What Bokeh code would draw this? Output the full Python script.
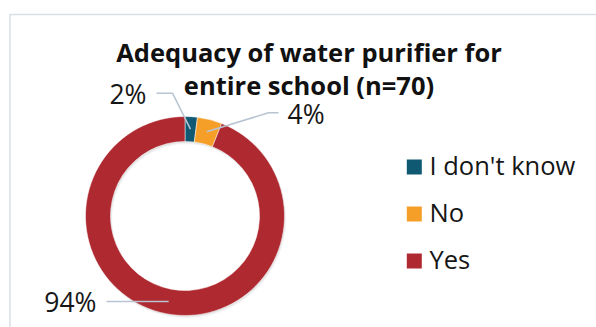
import math
from bokeh.plotting import figure
from bokeh.models import Range1d
from bokeh.core.properties import value
from bokeh.embed import file_html
from bokeh.resources import INLINE

# Data
categories = ["I don't know", "No", "Yes"]
shares = [2, 4, 94]
colors = ["#0f5a72", "#f59f29", "#af2930"]
title_lines = ["Adequacy of water purifier for", "entire school (n=70)"]

W, H = 596, 327
FONT = "Open Sans"
BASE_SHIFT = 10  # alphabetic baseline correction for the svg text renderer

p = figure(width=W, height=H, output_backend="svg", toolbar_location=None,
           x_range=Range1d(0, W), y_range=Range1d(0, H),
           min_border=0, outline_line_color=None, background_fill_color="white")
p.axis.visible = False
p.grid.visible = False


def Y(py):
    return H - py


def TY(py, shift=BASE_SHIFT):
    return H - (py - shift)


# chart-area border (left and top edges)
p.line([9.5, 9.5, W], [Y(H), Y(14), Y(14)], line_color="#dadee4", line_width=1.5)

# donut geometry
cx, cy = 184.5, Y(215.5)
r_in, r_out = 74.5, 99.5

# soft drop shadow
for off, a in [(1.0, 0.10), (2.0, 0.07), (3.0, 0.04)]:
    p.annular_wedge(x=cx + off * 0.6, y=cy - off, inner_radius=r_in, outer_radius=r_out,
                    start_angle=0, end_angle=2 * math.pi, fill_color="#606060",
                    fill_alpha=a, line_color=None)

total = float(sum(shares))
cum = 0.0
starts, ends, mids = [], [], []
for s in shares:
    a0 = math.pi / 2 - 2 * math.pi * cum / total
    a1 = math.pi / 2 - 2 * math.pi * (cum + s) / total
    starts.append(a0)
    ends.append(a1)
    mids.append((a0 + a1) / 2)
    cum += s

p.annular_wedge(x=cx, y=cy, inner_radius=r_in, outer_radius=r_out,
                start_angle=starts, end_angle=ends, direction="clock",
                fill_color=colors, line_color="white", line_width=0.5)

# leader lines from the middle of each ring segment
r_mid = (r_in + r_out) / 2
anchors = [(cx + r_mid * math.cos(m), cy + r_mid * math.sin(m)) for m in mids]
elbows = [[(172, Y(92.7)), (156, Y(92.7))],
          [(268, Y(112.3)), (278, Y(112.3))],
          [(106, Y(301))]]
for (ax, ay), pts in zip(anchors, elbows):
    xs = [ax] + [q[0] for q in pts]
    ys = [ay] + [q[1] for q in pts]
    p.line(xs, ys, line_color="#b8c4d1", line_width=1.5)

# percentage labels
lab_pos = [(146, 103.5, "right"), (287, 123.5, "left"), (96, 312, "right")]
for (lx, ly, al), s in zip(lab_pos, shares):
    p.text(x=[lx], y=[TY(ly, 10.5)], text=[f"{s}%"], text_font=value(FONT),
           text_font_size="26.5px", text_color="#161616", text_align=al,
           text_baseline="alphabetic")

# title
for i, t in enumerate(title_lines):
    p.text(x=[308.5], y=[TY(61 + 33 * i)], text=[t], text_font=value(FONT),
           text_font_style="bold", text_font_size="25.5px", text_color="#111111",
           text_align="center", text_baseline="alphabetic")

# legend
leg_base = [174, 221, 268]
for name, c, b in zip(categories, colors, leg_base):
    p.rect(x=[413.8], y=[Y(b - 7.5)], width=15, height=15, fill_color=c, line_color=None)
    p.text(x=[429], y=[TY(b)], text=[name], text_font=value(FONT),
           text_font_size="25.5px", text_color="#161616", text_align="left",
           text_baseline="alphabetic")

open("out.html", "w").write(file_html(p, INLINE))
